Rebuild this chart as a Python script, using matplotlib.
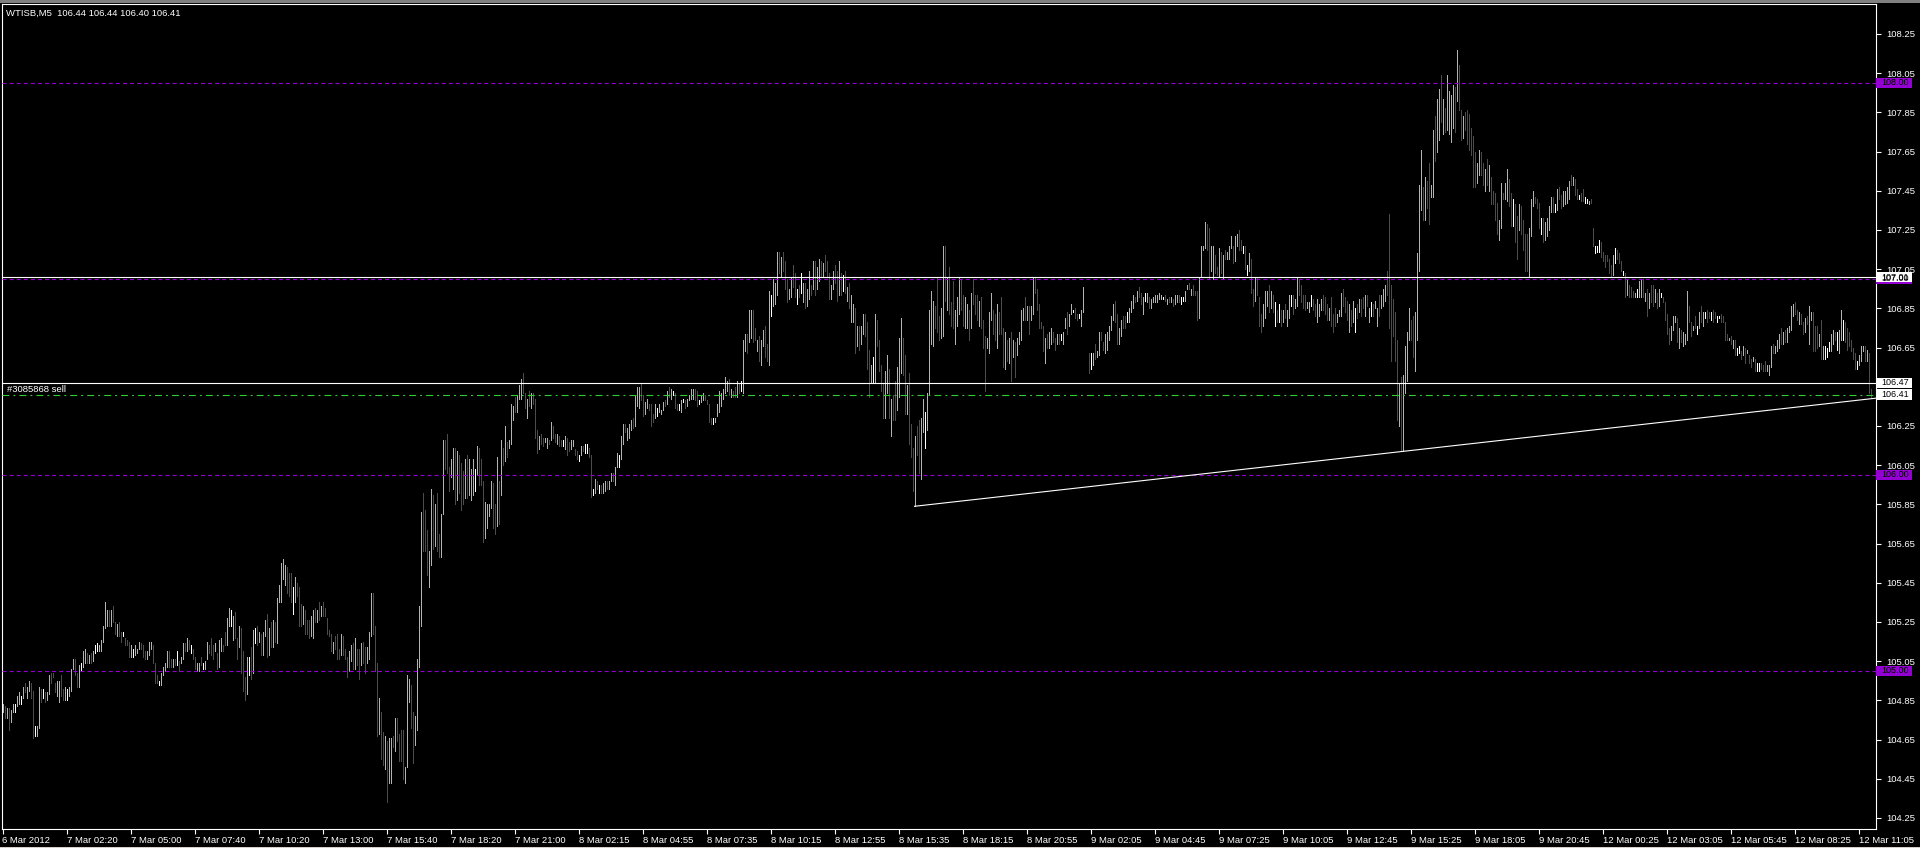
import matplotlib
matplotlib.use("Agg")
import matplotlib.pyplot as plt
import matplotlib.transforms as mtransforms
from matplotlib.patches import Rectangle
import numpy as np

# WTISB M5 bars. Prices are cents above 104.00.
# dir: u = bull (aqua), d = bear (red), n = doji (white)

# 6 Mar 23:40 .. 7 Mar 13:15
seg1_high = [
    83, 82, 81, 81, 80, 83, 83, 87, 89, 87,
    92, 94, 92, 95, 94, 90, 72, 72, 92, 91,
    91, 89, 89, 98, 99, 99, 94, 95, 95, 98,
    91, 92, 91, 92, 101, 106, 106, 99, 103, 104,
    110, 111, 109, 108, 109, 110, 113, 114, 113, 116,
    123, 135, 131, 131, 131, 133, 125, 124, 125, 120,
    120, 117, 116, 115, 113, 111, 113, 111, 115, 114,
    113, 110, 110, 115, 115, 113, 104, 98, 95, 99,
    102, 104, 110, 110, 106, 106, 106, 110, 105, 107,
    114, 114, 117, 116, 113, 111, 107, 104, 104, 107,
    104, 105, 115, 113, 117, 113, 114, 109, 116, 117,
    113, 120, 127, 132, 131, 128, 130, 117, 123, 122,
    110, 97, 107, 107, 112, 121, 122, 123, 120, 119,
    120, 126, 129, 122, 125, 126, 125, 137, 144, 155,
    157, 154, 153, 150, 150, 143, 148, 145, 143, 134,
    133, 131, 126, 126, 128, 131, 132, 131, 135, 133,
    135, 132, 127, 121,
]
seg1_low = [
    79, 76, 76, 70, 74, 79, 79, 82, 83, 83,
    86, 89, 86, 90, 86, 66, 67, 67, 71, 84,
    86, 84, 85, 88, 94, 97, 89, 87, 84, 87,
    85, 85, 85, 87, 90, 101, 98, 92, 92, 100,
    102, 104, 104, 104, 104, 105, 109, 110, 110, 110,
    115, 122, 123, 123, 123, 125, 119, 118, 118, 115,
    118, 113, 113, 107, 107, 107, 108, 109, 111, 111,
    107, 106, 106, 108, 111, 104, 94, 94, 93, 93,
    98, 100, 102, 102, 102, 102, 103, 103, 100, 104,
    106, 110, 110, 111, 109, 106, 101, 100, 100, 103,
    101, 101, 106, 109, 108, 106, 110, 101, 102, 110,
    110, 113, 113, 123, 123, 116, 117, 106, 112, 99,
    90, 85, 88, 98, 96, 99, 114, 113, 115, 108,
    108, 118, 107, 108, 112, 112, 115, 114, 135, 135,
    147, 144, 140, 138, 135, 129, 135, 138, 123, 123,
    124, 119, 119, 117, 118, 117, 125, 125, 126, 128,
    128, 128, 119, 118,
]
seg1_dir = ("ududu unuun uduud dnuud nduud dduud dunuu uddun uudud unnuu "
            "uuudu ddudd ndddu nuuud dduuu dddnu uuudd udndu ududn dduud "
            "nuudd duduu dduun uddud ddund undud uudud uduuu uuddd nuddd "
            "udddu ududu dddd")

# 7 Mar 13:20 .. 8 Mar 02:30
seg2_high = [
    119, 115, 118, 119, 111, 119, 118, 111, 107, 110,
    113, 114, 117, 111, 111, 114, 115, 112, 112, 120,
    140, 140, 123, 104, 86, 79, 69, 67, 64, 66,
    66, 67, 76, 76, 68, 70, 70, 51, 98, 96,
    93, 79, 77, 106, 133, 181, 191, 182, 172, 161,
    193, 190, 185, 191, 170, 180, 218, 218, 221, 204,
    208, 214, 214, 212, 210, 206, 202, 208, 210, 208,
    203, 208, 203, 215, 214, 208, 197, 186, 185, 185,
    197, 196, 185, 209, 197, 218, 214, 225, 217, 218,
    236, 235, 240, 241, 246, 249, 252, 242, 239, 243,
    242, 242, 239, 223, 220, 221, 219, 219, 219, 218,
    227, 225, 221, 221, 220, 218, 218, 220, 219, 217,
    218, 218, 213, 212, 210, 215, 215, 216, 216, 214,
    210, 193, 198, 197, 195, 195, 196, 197, 197, 197,
    201, 201, 204, 211, 210, 220, 226, 226, 224, 226,
    228, 229, 241, 245, 245,
]
seg2_low = [
    110, 109, 111, 106, 106, 108, 108, 106, 97, 100,
    105, 101, 101, 103, 96, 103, 104, 99, 104, 106,
    118, 119, 100, 67, 68, 55, 52, 50, 33, 43,
    43, 61, 59, 64, 54, 54, 45, 43, 51, 84,
    71, 53, 62, 70, 102, 123, 161, 161, 149, 143,
    154, 162, 164, 161, 158, 158, 180, 203, 201, 192,
    199, 193, 185, 187, 191, 182, 185, 188, 188, 190,
    187, 190, 192, 200, 195, 195, 166, 168, 173, 179,
    183, 173, 170, 174, 175, 190, 205, 207, 209, 214,
    216, 228, 232, 232, 239, 239, 242, 234, 229, 235,
    234, 236, 219, 211, 213, 216, 215, 217, 214, 216,
    218, 219, 217, 216, 215, 215, 215, 213, 210, 212,
    213, 215, 210, 208, 207, 210, 212, 211, 211, 209,
    189, 190, 191, 193, 191, 191, 191, 192, 193, 193,
    197, 197, 195, 204, 204, 208, 216, 222, 218, 219,
    223, 224, 225, 235, 234,
]
seg2_dir = ("duddd udddu ududd udduu udddu ddudu ududd dduuu dduuu udddu "
            "ududd uuddd uudud ddudu uunud dduuu uddud ududu uuduu uddud "
            "udddu dduud uddud dnudd uuddn udnnd dnudn duudu uduun uuduu "
            "uduuu")

# 8 Mar 02:35 .. 8 Mar 15:25
seg3_high = [
    247, 241, 237, 239, 236, 236, 231, 236, 234, 236,
    233, 237, 238, 243, 245, 244, 243, 242, 236, 236,
    238, 239, 238, 239, 241, 244, 244, 244, 243, 238,
    241, 242, 241, 238, 236, 229, 229, 229, 236, 243,
    242, 244, 250, 248, 249, 244, 243, 245, 248, 247,
    248, 269, 272, 272, 284, 284, 284, 275, 269, 271,
    269, 274, 276, 267, 294, 292, 300, 298, 314, 314,
    311, 314, 309, 300, 295, 301, 307, 303, 295, 297,
    303, 298, 298, 295, 304, 297, 309, 309, 306, 310,
    309, 308, 312, 309, 303, 297, 304, 307, 304, 309,
    303, 302, 304, 296, 298, 292, 287, 285, 276, 276,
    276, 282, 282, 278, 264, 256, 260, 282, 279, 269,
    256, 247, 253, 261, 254, 239, 241, 248, 255, 270,
    280, 270, 261, 246, 252, 226, 214, 220, 225, 228,
    229, 239, 232, 242, 284, 294, 289, 286, 301, 281,
    285, 317, 317, 301, 306,
]
seg3_low = [
    238, 230, 231, 234, 233, 225, 227, 229, 230, 232,
    231, 233, 235, 236, 240, 239, 241, 234, 233, 233,
    232, 237, 234, 235, 238, 239, 239, 238, 235, 236,
    237, 238, 238, 236, 227, 226, 226, 227, 230, 232,
    235, 239, 242, 243, 241, 240, 240, 240, 240, 242,
    243, 242, 263, 262, 268, 270, 268, 269, 263, 258,
    256, 266, 260, 258, 256, 281, 286, 287, 292, 303,
    301, 304, 295, 288, 290, 291, 296, 291, 287, 291,
    293, 288, 285, 286, 290, 292, 295, 292, 295, 299,
    301, 301, 304, 301, 290, 290, 295, 298, 289, 292,
    292, 294, 293, 289, 285, 278, 278, 262, 266, 264,
    267, 272, 271, 254, 240, 247, 247, 247, 266, 253,
    243, 229, 229, 242, 229, 220, 228, 228, 233, 240,
    252, 251, 231, 231, 216, 209, 192, 184, 210, 201,
    198, 222, 214, 223, 241, 267, 266, 275, 273, 269,
    270, 271, 289, 284, 282,
]
seg3_dir = ("dduud ddunu uudud unddn unduu uuddn uuddd dnuuu uuuud uddud "
            "nuudu uddud uuddu nuuud udddu uddnd nuduu duduu duddd uuddu "
            "dndud uudud uuddd unudd dduud udduu uddud ddudd uunuu uuddd "
            "uudud")

# 8 Mar 15:30 .. 9 Mar 04:20
seg4_high = [
    288, 299, 284, 291, 301, 300, 292, 291, 287, 284,
    293, 300, 292, 292, 289, 291, 279, 271, 270, 283,
    293, 284, 282, 287, 283, 291, 275, 273, 269, 270,
    273, 269, 268, 270, 273, 284, 285, 291, 286, 286,
    286, 301, 301, 295, 287, 278, 276, 270, 272, 273,
    275, 273, 270, 272, 272, 272, 273, 280, 283, 282,
    287, 284, 285, 282, 282, 284, 296, 287, 289, 262,
    262, 262, 267, 263, 273, 273, 268, 272, 273, 276,
    281, 287, 289, 282, 275, 279, 281, 281, 283, 285,
    289, 292, 291, 294, 296, 293, 291, 293, 293, 291,
    290, 291, 292, 292, 293, 292, 291, 292, 290, 291,
    291, 290, 292, 292, 292, 291, 291, 294, 297, 298,
    295, 297, 294, 294, 301, 317, 317, 329, 328, 326,
    317, 317, 312, 306, 316, 314, 312, 315, 314, 317,
    322, 317, 322, 323, 325, 320, 317, 317, 307, 313,
    310, 295, 301, 301, 291,
]
seg4_low = [
    276, 275, 267, 276, 282, 284, 276, 275, 275, 269,
    275, 287, 282, 279, 276, 275, 265, 243, 265, 262,
    279, 272, 269, 265, 272, 272, 255, 254, 258, 257,
    248, 260, 250, 261, 267, 269, 279, 279, 279, 272,
    279, 282, 293, 284, 275, 275, 263, 257, 265, 265,
    267, 268, 264, 267, 267, 269, 267, 275, 272, 276,
    282, 283, 280, 279, 280, 276, 283, 287, 289, 252,
    254, 256, 259, 260, 261, 269, 264, 262, 264, 269,
    274, 279, 278, 267, 267, 271, 275, 275, 278, 278,
    283, 285, 288, 289, 291, 287, 282, 289, 288, 285,
    285, 288, 288, 288, 290, 290, 290, 289, 287, 288,
    288, 286, 287, 288, 288, 287, 289, 289, 295, 295,
    292, 292, 292, 279, 280, 301, 315, 316, 315, 300,
    304, 300, 303, 302, 301, 303, 300, 310, 310, 310,
    316, 308, 309, 317, 315, 315, 313, 305, 302, 304,
    293, 286, 289, 292, 276,
]
seg4_dir = ("dduuu dduud udddu ddduu uddud ddudu duduu uudud uuddd ddudu "
            "uddud nuudu unddn uunnd nuduu dduuu uuddu uddnu uudud dunud "
            "uuuuu undud uduud nnuud udddu uuudd uuddu duduu uduud dndnu "
            "ddudd")

# 9 Mar 04:25 .. 9 Mar 16:50
seg5_high = [
    282, 287, 294, 294, 297, 294, 292, 288, 284, 287,
    284, 284, 287, 284, 292, 292, 292, 290, 301, 300,
    297, 292, 292, 288, 288, 292, 290, 287, 290, 287,
    290, 292, 291, 287, 285, 291, 282, 285, 282, 284,
    293, 295, 291, 289, 287, 284, 289, 285, 287, 290,
    290, 291, 292, 292, 285, 288, 287, 289, 285, 292,
    292, 295, 297, 304, 333, 297, 290, 283, 269, 247,
    250, 251, 266, 273, 285, 279, 281, 283, 313, 348,
    366, 347, 352, 350, 359, 348, 376, 383, 392, 397,
    404, 392, 387, 404, 396, 394, 399, 398, 417, 409,
    386, 383, 385, 386, 384, 377, 373, 365, 359, 366,
    365, 359, 356, 361, 358, 352, 345, 344, 339, 330,
    349, 344, 349, 356, 351, 344, 341, 338, 332, 338,
    337, 330, 323, 323, 326, 341, 345, 342, 341, 339,
    331, 331, 329, 331, 337, 342, 342, 338, 346, 347,
]
seg5_low = [
    273, 276, 280, 286, 283, 285, 283, 276, 278, 278,
    276, 278, 280, 276, 280, 286, 282, 285, 286, 292,
    288, 285, 284, 285, 283, 286, 284, 281, 278, 281,
    284, 284, 282, 279, 279, 276, 273, 276, 278, 281,
    281, 286, 283, 279, 273, 276, 278, 273, 280, 283,
    281, 285, 281, 286, 278, 281, 281, 285, 276, 281,
    285, 286, 289, 292, 275, 258, 271, 258, 228, 225,
    212, 212, 242, 248, 269, 269, 260, 253, 269, 304,
    335, 330, 330, 336, 328, 342, 342, 360, 365, 371,
    380, 374, 375, 376, 374, 370, 377, 375, 391, 386,
    371, 372, 376, 369, 366, 363, 347, 347, 349, 353,
    353, 348, 345, 348, 345, 338, 338, 330, 323, 320,
    326, 341, 341, 340, 337, 327, 327, 319, 310, 325,
    323, 315, 304, 304, 301, 322, 337, 339, 336, 326,
    323, 319, 320, 322, 325, 334, 334, 334, 335, 341,
]
seg5_dir = ("duuud udndn duduu nduud ddduu ndduu udddu ddduu udddu dundu "
            "ddudu nduud uuudd ddddu duuuu dduuu ududd uuduu duduu uudud "
            "duddd ddduu ddudu ddddu uduud dnddu ddddu uuddd nduuu udnud")

# 9 Mar 16:55 .. 12 Mar 11:40
seg6_high = [
    343, 345, 345, 347, 350, 353, 352, 351, 346, 343,
    344, 346, 342, 341, 340, 341, 326, 317, 317, 320,
    319, 314, 312, 312, 310, 307, 312, 316, 315, 313,
    309, 304, 303, 300, 297, 296, 294, 293, 295, 299,
    300, 300, 293, 295, 293, 297, 297, 295, 293, 295,
    293, 291, 288, 282, 275, 276, 281, 281, 280, 275,
    274, 273, 272, 294, 286, 278, 276, 281, 276, 283,
    286, 283, 283, 284, 283, 283, 284, 283, 281, 281,
    282, 281, 278, 272, 270, 271, 269, 269, 265, 266,
    263, 266, 265, 264, 261, 259, 260, 259, 257, 257,
    257, 256, 258, 256, 256, 266, 267, 266, 269, 272,
    275, 273, 274, 275, 276, 286, 287, 288, 284, 283,
    282, 278, 280, 281, 286, 283, 283, 276, 276, 272,
    279, 266, 266, 265, 268, 272, 274, 273, 273, 274,
    284, 279, 278, 275, 273, 269, 265, 262, 258, 261,
    266, 266, 266, 264, 262, 244,
]
seg6_low = [
    336, 337, 338, 339, 341, 348, 348, 343, 341, 341,
    340, 340, 339, 339, 338, 339, 317, 313, 314, 314,
    311, 309, 306, 309, 303, 301, 302, 308, 310, 308,
    304, 302, 291, 292, 291, 291, 291, 291, 291, 291,
    291, 291, 289, 281, 285, 288, 286, 288, 285, 286,
    291, 288, 279, 272, 267, 269, 274, 278, 268, 265,
    268, 266, 267, 269, 278, 271, 274, 275, 272, 275,
    278, 276, 280, 278, 280, 279, 278, 280, 278, 280,
    278, 278, 269, 269, 269, 267, 265, 261, 261, 262,
    259, 261, 257, 262, 257, 255, 258, 253, 253, 253,
    254, 253, 253, 253, 251, 255, 262, 262, 263, 265,
    267, 267, 268, 268, 273, 274, 281, 282, 279, 277,
    277, 272, 273, 277, 267, 279, 263, 263, 265, 266,
    259, 259, 259, 260, 263, 263, 267, 269, 264, 262,
    269, 269, 268, 264, 266, 263, 259, 254, 254, 256,
    258, 263, 258, 258, 242, 240,
]
seg6_dir = ("duuuu duddn ddnnu ddnnn ddddd dundd dndud ddunu ududu ddudu "
            "ndddd uuudu duuud dudnu dundd nddnn ddddu dudnn dudud dudnn "
            "ddduu uduuu duduu uuddu ddudu udddu dunnn uudnu unddd dddnu "
            "uudud d")

x_labels = ["6 Mar 2012", "7 Mar 02:20", "7 Mar 05:00", "7 Mar 07:40", "7 Mar 10:20",
            "7 Mar 13:00", "7 Mar 15:40", "7 Mar 18:20", "7 Mar 21:00", "8 Mar 02:15",
            "8 Mar 04:55", "8 Mar 07:35", "8 Mar 10:15", "8 Mar 12:55", "8 Mar 15:35",
            "8 Mar 18:15", "8 Mar 20:55", "9 Mar 02:05", "9 Mar 04:45", "9 Mar 07:25",
            "9 Mar 10:05", "9 Mar 12:45", "9 Mar 15:25", "9 Mar 18:05", "9 Mar 20:45",
            "12 Mar 00:25", "12 Mar 03:05", "12 Mar 05:45", "12 Mar 08:25", "12 Mar 11:05"]
bars_per_label = 32

purple_levels = [108.00, 107.00, 106.00, 105.00]
white_levels = [107.01, 106.47]
order_level = 106.41
order_text = "#3085868 sell"
bid = 106.41
title = "WTISB,M5  106.44 106.44 106.40 106.41"
trend_idx = [456, 700]
trend_px = [105.84, 106.12]

# ---------------------------------------------------------------
highs = np.concatenate([seg1_high, seg2_high, seg3_high, seg4_high, seg5_high, seg6_high]) / 100 + 104.0
lows = np.concatenate([seg1_low, seg2_low, seg3_low, seg4_low, seg5_low, seg6_low]) / 100 + 104.0
dirs = "".join((seg1_dir + seg2_dir + seg3_dir + seg4_dir + seg5_dir + seg6_dir).split())
assert len(highs) == len(lows) == len(dirs), (len(highs), len(lows), len(dirs))

plt.rcParams['font.family'] = ['Liberation Sans', 'DejaVu Sans']
plt.rcParams['lines.scale_dashes'] = False

W, H = 1920, 848
PURPLE = '#9400D3'
GREEN = '#32CD32'
FS = 6.8

fig = plt.figure(figsize=(W / 100, H / 100), dpi=100, facecolor='black')
ax = fig.add_axes([2 / W, (H - 828.5) / H, 1874 / W, 824.5 / H], facecolor='black')

x = np.arange(len(highs))
cmap = {'u': '#00FFFF', 'd': '#FF0000', 'n': '#FFFFFF'}
# 2 px per bar, bar centres on pixel centres, drawn as hard 1 px lines
ax.vlines(x, lows, highs, colors=[cmap[c] for c in dirs], linewidth=0.45,
          antialiased=False, zorder=3)

ax.set_xlim(-0.25, -0.25 + 1874 / 2)
ax.set_ylim(104.196, 108.403)

for lvl in purple_levels:
    ax.axhline(lvl, color=PURPLE, lw=0.8, linestyle=(0, (2.9, 2.2)), zorder=4)
for lvl in white_levels:
    ax.axhline(lvl, color='white', lw=0.8, zorder=4)
ax.axhline(order_level, color=GREEN, lw=0.8, linestyle=(0, (5.0, 2.9, 1.4, 2.9)), zorder=4)

# trend line, a ray to the right edge
slope = (trend_px[1] - trend_px[0]) / (trend_idx[1] - trend_idx[0])
x_end = ax.get_xlim()[1]
ax.plot([trend_idx[0], x_end], [trend_px[0], trend_px[0] + slope * (x_end - trend_idx[0])],
        color='white', lw=0.8, zorder=4)

# axes styling
for sp in ax.spines.values():
    sp.set_color('white')
    sp.set_linewidth(0.8)
ax.yaxis.tick_right()
yt = np.arange(104.25, 108.26, 0.20)
ax.set_yticks(yt)
# 106.45 sits fully under the 106.47 / 106.41 price boxes in the terminal
ax.set_yticklabels(["" if abs(v - 106.45) < 1e-6 else f"{v:.2f}" for v in yt])
ax.set_xticks(np.arange(len(x_labels)) * bars_per_label)
ax.set_xticklabels(x_labels)
for lbl in ax.get_xticklabels():
    lbl.set_horizontalalignment('left')
ax.tick_params(axis='both', colors='white', labelsize=FS, length=3.5, width=0.8, pad=2)
ax.tick_params(axis='y', pad=4)

# price boxes on the right scale
trans = mtransforms.blended_transform_factory(ax.transAxes, ax.transData)
box_w = 36 / 1874
box_h = 10.5 / 196
tx = 1 + 5 / 1874
labels = [(v, PURPLE) for v in purple_levels] + [(v, 'white') for v in white_levels] + [(bid, 'white')]
for val, col in labels:
    ax.add_patch(Rectangle((1.0, val - box_h / 2), box_w, box_h, transform=trans,
                           facecolor=col, edgecolor='none', clip_on=False, zorder=6))
    ax.text(tx, val, f"{val:.2f}", transform=trans, ha='left', va='center',
            fontsize=FS - 0.3, color='black', clip_on=False, zorder=7)

ax.annotate(order_text, xy=(0, order_level), xycoords=trans, xytext=(5, 1),
            textcoords='offset pixels', ha='left', va='bottom', color='white', fontsize=FS)

fig.text(6 / W, 1 - 13 / H, title, color='white', fontsize=FS, ha='left', va='center')

# window chrome
fig.add_artist(Rectangle((0, 1 - 2.5 / H), 1, 2.5 / H, transform=fig.transFigure,
                         facecolor='#808080', edgecolor='none'))
fig.add_artist(Rectangle((0, 0), 1, 1.5 / H, transform=fig.transFigure,
                         facecolor='#d4d0c8', edgecolor='none'))

fig.savefig('out.png', dpi=100, facecolor='black')
